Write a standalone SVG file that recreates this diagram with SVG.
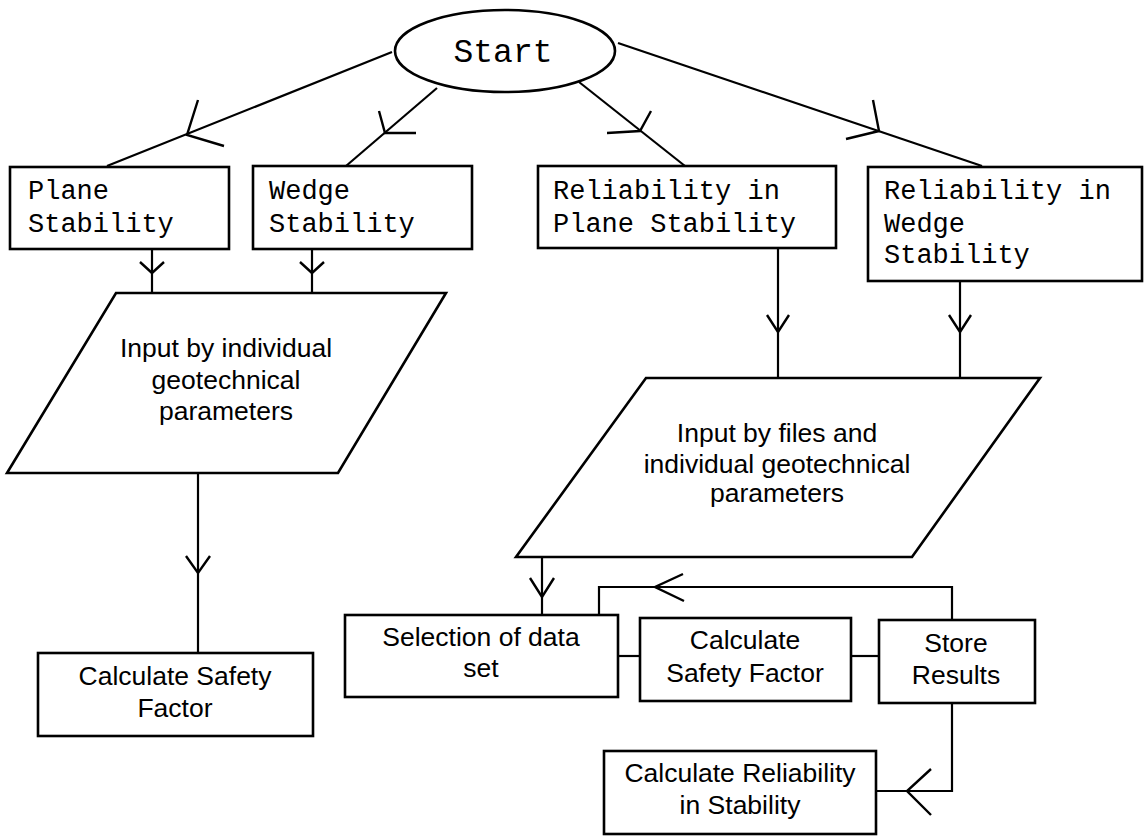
<svg xmlns="http://www.w3.org/2000/svg" width="1146" height="836" viewBox="0 0 1146 836">
<style>
.box{fill:none;stroke:#000;stroke-width:2.6}
.ln{fill:none;stroke:#000;stroke-width:2.2}
.ah{fill:none;stroke:#000;stroke-width:2.4;stroke-linejoin:miter}
.mono{font-family:"Liberation Mono","Courier New",monospace;font-size:27px;fill:#000}
.sans{font-family:"Liberation Sans",Arial,Helvetica,sans-serif;font-size:26.5px;fill:#000;text-anchor:middle}
</style>
<rect width="1146" height="836" fill="#fff"/>
<g id="connectors">
  <path class="ln" d="M392,52 L107,166"/>
  <path class="ah" d="M198,100 L187,135 L224,146"/>
  <path class="ln" d="M437,88 L346,166"/>
  <path class="ah" d="M379,111 L385,133 L416,133"/>
  <path class="ln" d="M579,82 L685,166"/>
  <path class="ah" d="M651,111 L640,131 L607,133"/>
  <path class="ln" d="M618,43 L982,166"/>
  <path class="ah" d="M873,100 L879,131 L846,139"/>
  <path class="ln" d="M152,249 L152,293"/>
  <path class="ah" d="M140,262 L152,273 L164,262"/>
  <path class="ln" d="M312,249 L312,293"/>
  <path class="ah" d="M300,262 L312,273 L324,262"/>
  <path class="ln" d="M778,248 L778,378"/>
  <path class="ah" d="M767,315 L778,332 L789,315"/>
  <path class="ln" d="M960,281 L960,378"/>
  <path class="ah" d="M949,315 L960,332 L971,315"/>
  <path class="ln" d="M198,473 L198,653"/>
  <path class="ah" d="M186,556 L198,573 L210,556"/>
  <path class="ln" d="M542,557 L542,615"/>
  <path class="ah" d="M530,578 L542,597 L554,578"/>
  <path class="ln" d="M618,656 L640,656"/>
  <path class="ln" d="M851,656 L879,656"/>
  <path class="ln" d="M952,620 L952,587 L599,587 L599,614"/>
  <path class="ah" d="M683,574 L655,587 L684,601"/>
  <path class="ln" d="M952,703 L952,791 L877,791"/>
  <path class="ah" d="M931,769 L907,791 L931,815"/>
</g>
<g id="start">
  <ellipse class="box" cx="505" cy="51" rx="110" ry="41"/>
  <text x="503" y="62" style="font-family:'Liberation Mono','Courier New',monospace;font-size:33px;text-anchor:middle">Start</text>
</g>
<g id="plane">
  <rect class="box" x="10" y="167" width="219" height="82"/>
  <text class="mono" x="28" y="199">Plane</text>
  <text class="mono" x="28" y="232">Stability</text>
</g>
<g id="wedge">
  <rect class="box" x="253" y="166" width="219" height="83"/>
  <text class="mono" x="269" y="199">Wedge</text>
  <text class="mono" x="269" y="232">Stability</text>
</g>
<g id="rel-plane">
  <rect class="box" x="538" y="166" width="298" height="82"/>
  <text class="mono" x="553" y="199">Reliability in</text>
  <text class="mono" x="553" y="232">Plane Stability</text>
</g>
<g id="rel-wedge">
  <rect class="box" x="868" y="167" width="274" height="114"/>
  <text class="mono" x="884" y="199">Reliability in</text>
  <text class="mono" x="884" y="232">Wedge</text>
  <text class="mono" x="884" y="263">Stability</text>
</g>
<g id="input-individual">
  <polygon class="box" points="116,293 446,293 338,473 7,473"/>
  <text class="sans" x="226" y="357">Input by individual</text>
  <text class="sans" x="226" y="389">geotechnical</text>
  <text class="sans" x="226" y="420">parameters</text>
</g>
<g id="input-files">
  <polygon class="box" points="646,378 1040,378 912,557 516,557"/>
  <text class="sans" x="777" y="442">Input by files and</text>
  <text class="sans" x="777" y="473">individual geotechnical</text>
  <text class="sans" x="777" y="502">parameters</text>
</g>
<g id="calc-sf-left">
  <rect class="box" x="38" y="653" width="275" height="83"/>
  <text class="sans" x="175" y="685">Calculate Safety</text>
  <text class="sans" x="175" y="717">Factor</text>
</g>
<g id="selection">
  <rect class="box" x="345" y="615" width="273" height="82"/>
  <text class="sans" x="481" y="646">Selection of data</text>
  <text class="sans" x="481" y="677">set</text>
</g>
<g id="calc-sf-mid">
  <rect class="box" x="640" y="618" width="211" height="83"/>
  <text class="sans" x="745" y="649">Calculate</text>
  <text class="sans" x="745" y="682">Safety Factor</text>
</g>
<g id="store">
  <rect class="box" x="879" y="620" width="156" height="83"/>
  <text class="sans" x="956" y="652">Store</text>
  <text class="sans" x="956" y="684">Results</text>
</g>
<g id="calc-rel">
  <rect class="box" x="604" y="751" width="272" height="83"/>
  <text class="sans" x="740" y="782">Calculate Reliability</text>
  <text class="sans" x="740" y="814">in Stability</text>
</g>
</svg>
